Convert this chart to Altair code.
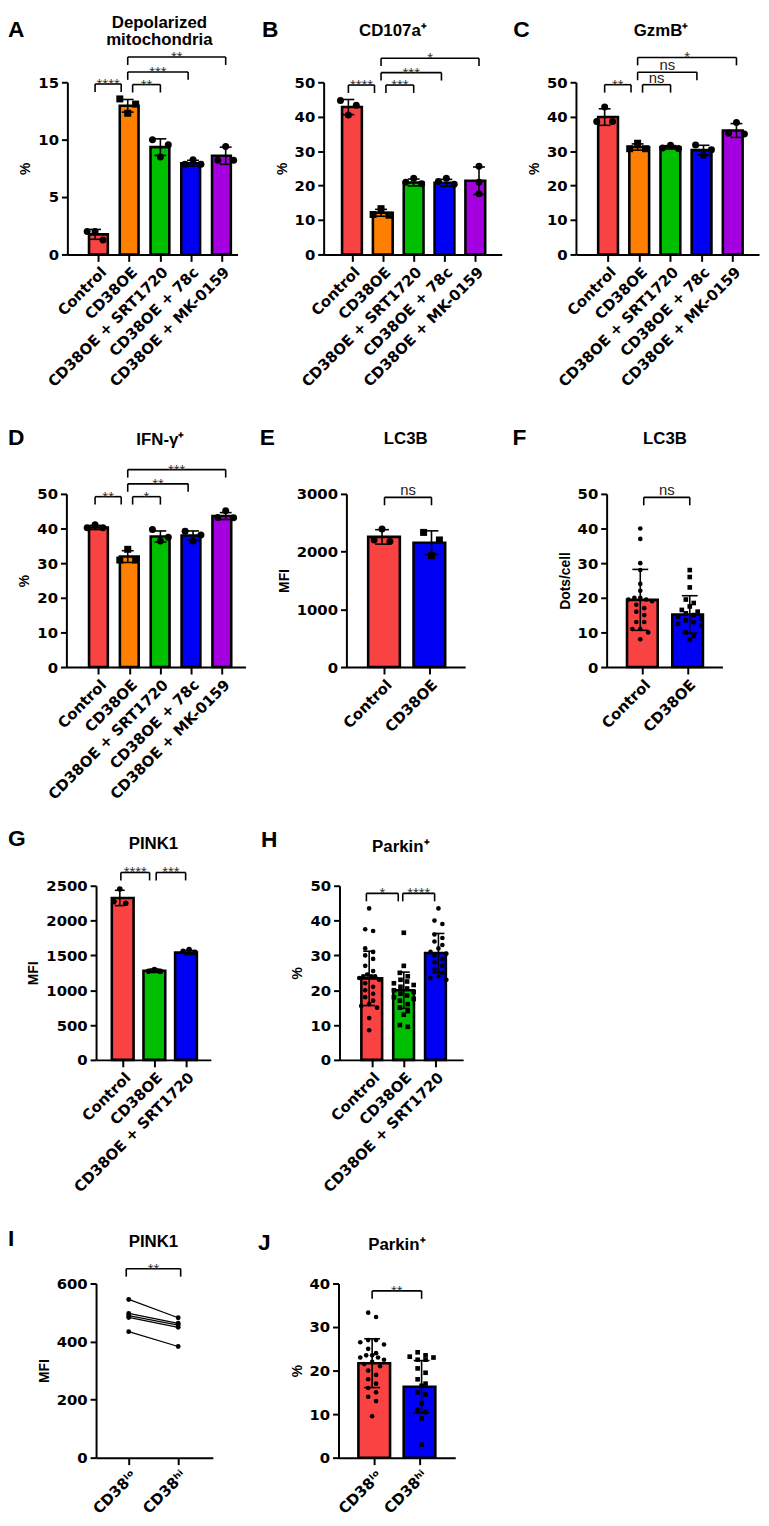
import altair as alt
import pandas as pd

FONT = "Liberation Sans"
AXFONT = "DejaVu Sans"
W, H = 761, 1518

RED, ORANGE, GREEN, BLUE, PURPLE = "#F94343", "#FF8000", "#00BE00", "#0000F5", "#A400E0"

# ---------------- data ----------------
five_groups = ["Control", "CD38OE", "CD38OE + SRT1720", "CD38OE + 78c", "CD38OE + MK-0159"]
three_groups = ["Control", "CD38OE", "CD38OE + SRT1720"]
two_groups = ["Control", "CD38OE"]
cd38_groups = ["CD38ˡᵒ", "CD38ʰⁱ"]

A_mean = [1.75, 12.95, 9.35, 7.95, 8.6]
A_sd = [0.43, 0.55, 0.72, 0.25, 0.75]
A_pts = [[2.0, 1.25, 2.0], [13.55, 12.3, 13.1], [10.0, 8.5, 9.55], [7.85, 8.25, 7.85], [8.2, 9.4, 8.2]]
A_sig = [(0, 0.8, 14.85, "****"), (1.15, 2, 14.8, "**"), (1, 2.85, 15.9, "***"), (1, 4, 17.2, "**")]

B_mean = [42.8, 12.1, 20.9, 20.8, 21.4]
B_sd = [2.2, 1.0, 1.0, 1.0, 4.0]
B_pts = [[44.7, 40.5, 43.3], [11.4, 13.3, 11.6], [22.1, 20.5, 21.0], [22.1, 20.4, 21.2], [21.0, 25.6, 17.6]]
B_sig = [(0, 0.8, 49.2, "****"), (1.15, 2, 49.2, "***"), (1, 2.85, 52.8, "***"), (1, 4, 57.0, "*")]

C_mean = [39.9, 31.2, 31.1, 30.3, 36.0]
C_sd = [2.4, 0.9, 0.5, 1.4, 2.0]
C_pts = [[42.8, 38.6, 38.6], [32.3, 30.7, 30.7], [31.7, 30.8, 30.9], [31.8, 28.8, 30.4], [38.3, 35.2, 35.0]]
C_sig = [(0, 0.8, 49.3, "**"), (1.15, 2, 49.3, "ns"), (1, 2.8, 52.9, "ns"), (1, 4, 57.2, "*")]

D_mean = [40.3, 31.9, 37.7, 38.0, 43.6]
D_sd = [0.6, 1.7, 1.6, 1.3, 1.0]
D_pts = [[40.2, 41.1, 40.2], [30.9, 34.0, 30.9], [36.4, 39.7, 37.5], [39.2, 36.4, 38.1], [43.2, 45.1, 43.1]]
D_sig = [(0, 0.8, 49.2, "**"), (1.15, 2, 49.2, "*"), (1, 2.85, 52.9, "**"), (1, 4, 57.0, "***")]

E_mean = [2255, 2155]
E_sd = [125, 205]
E_pts = [[2174, 2390, 2202], [2333, 2202, 1929]]
E_sig = [(0.05, 1, 2940, "ns")]

F_mean = [19.4, 15.2]
F_sd = [8.8, 5.4]
F_pts = [[40, 37, 30, 28, 24, 22, 20, 20, 19.5, 19.5, 19, 18, 17, 16, 15, 13, 13, 11, 11, 10, 8],
         [28, 26, 23, 19.5, 18.5, 17.5, 16.5, 16, 15.5, 15, 14.5, 14, 13.5, 13, 12.5, 12, 10, 9, 8]]
F_sig = [(0.07, 1, 49.0, "ns")]

G_mean = [2325, 1280, 1540]
G_sd = [110, 25, 30]
G_pts = [[2248, 2452, 2272], [1273, 1297, 1270], [1583, 1559, 1545]]
G_sig = [(0.03, 0.86, 2690, "****"), (1.05, 1.9, 2690, "***")]

H_mean = [23.4, 20.0, 30.7]
H_sd = [7.8, 5.2, 5.6]
H_pts = [[43.5, 37.5, 37, 32, 31, 30, 29, 27, 25.5, 24.5, 24, 24, 24, 23.5, 23, 22, 21, 20, 19, 18, 17, 16, 15.5, 15, 12, 8.5],
         [36.5, 27, 25, 24, 23, 22.5, 22, 21.5, 21, 20.5, 20, 19.5, 19, 18.5, 18, 17.5, 17, 16, 15, 14, 13, 10, 9.5],
         [43.5, 40, 39, 36, 35, 34, 33, 32, 31, 30.5, 30, 29, 28, 27, 26, 25, 24, 23.5, 23]]
H_sig = [(-0.08, 0.84, 47.8, "*"), (0.97, 1.89, 47.8, "****")]

I_lo = [545, 497, 489, 483, 434]
I_hi = [482, 463, 457, 449, 383]
I_sig = [(-0.05, 1.05, 651, "**")]

J_mean = [21.7, 16.3]
J_sd = [5.6, 6.0]
J_pts = [[33.3, 32.3, 27, 27, 26.5, 26, 25, 24, 23.5, 23.5, 23, 23, 22.5, 22, 21.5, 21, 20, 19, 18, 17, 16, 15, 14, 13, 9.5],
         [24.2, 23.5, 23.2, 23, 22.5, 22.5, 20.5, 19.5, 18, 17, 16.5, 15, 14.5, 12.5, 11, 10.5, 9, 3]]
J_sig = [(0, 1, 38.3, "**")]

# ---------------- layout (view pixel coordinates) ----------------
ROW = {1: (241, 67), 2: (658, 483), 3: (1055, 879), 4: (1457, 1281)}
SMALL = dict(row_px=9, half_px=8, gap_px=16, size=50)
DENSE = dict(row_px=6, half_px=12, gap_px=8, size=22)

LAY = {
    "A": dict(ax=60, end=232, c0=88, step=33, row=1, ymax=15, ticks=[0, 5, 10, 15], barw=19, cap=6, ytitle="%",
              colors=[RED, ORANGE, GREEN, BLUE, PURPLE], shapes=["circle", "square", "circle", "circle", "circle"], **SMALL),
    "B": dict(ax=319, end=499, c0=344, step=33, row=1, ymax=50, ticks=[0, 10, 20, 30, 40, 50], barw=20, cap=6, ytitle="%",
              colors=[RED, ORANGE, GREEN, BLUE, PURPLE], shapes=["circle", "square", "circle", "circle", "circle"], **SMALL),
    "C": dict(ax=574, end=759, c0=603, step=33.3, row=1, ymax=50, ticks=[0, 10, 20, 30, 40, 50], barw=20, cap=6, ytitle="%",
              colors=[RED, ORANGE, GREEN, BLUE, PURPLE], shapes=["circle", "square", "circle", "circle", "circle"], **SMALL),
    "D": dict(ax=59, end=240, c0=88, step=33, row=2, ymax=50, ticks=[0, 10, 20, 30, 40, 50], barw=19, cap=6, ytitle="%",
              colors=[RED, ORANGE, GREEN, BLUE, PURPLE], shapes=["circle", "square", "circle", "circle", "circle"], **SMALL),
    "E": dict(ax=342, end=462, c0=378, step=50, row=2, ymax=3000, ticks=[0, 1000, 2000, 3000], barw=32, cap=7, ytitle="MFI",
              colors=[RED, BLUE], shapes=["circle", "square"], **SMALL),
    "F": dict(ax=605, end=722, c0=639, step=50, row=2, ymax=50, ticks=[0, 10, 20, 30, 40, 50], barw=31, cap=8, ytitle="Dots/cell",
              colors=[RED, BLUE], shapes=["circle", "square"], **DENSE),
    "G": dict(ax=89, end=205, c0=113, step=35, row=3, ymax=2500, ticks=[0, 500, 1000, 1500, 2000, 2500], barw=22, cap=5, ytitle="MFI",
              colors=[RED, GREEN, BLUE], shapes=["circle", "circle", "circle"], **dict(SMALL, size=32, half_px=6)),
    "H": dict(ax=335, end=460, c0=365, step=35, row=3, ymax=50, ticks=[0, 10, 20, 30, 40, 50], barw=21, cap=6, ytitle="%",
              colors=[RED, GREEN, BLUE], shapes=["circle", "square", "circle"], **dict(DENSE, half_px=10)),
    "I": dict(ax=89, end=207, c0=122, step=50, row=4, ymax=600, ticks=[0, 200, 400, 600], ytitle="MFI", size=24),
    "J": dict(ax=334, end=452, c0=368, step=50, row=4, ymax=40, ticks=[0, 10, 20, 30, 40], barw=32, cap=8, ytitle="%",
              colors=[RED, BLUE], shapes=["circle", "square"], **DENSE),
}

LETTERS = {"A": (0, 14, "left"), "B": (265, 14, "center"), "C": (519, 14, "center"),
           "D": (0, 427, "left"), "E": (262, 427, "center"), "F": (517, 427, "center"),
           "G": (0, 832, "left"), "H": (264, 833, "center"),
           "I": (0, 1236, "left"), "J": (259, 1240, "center")}
TITLES = {"A": (["Depolarized", "mitochondria"], 153, 12), "B": ("CD107a⁺", 389, 20), "C": ("GzmB⁺", 660, 20),
          "D": ("IFN-γ⁺", 154, 434), "E": ("LC3B", 402, 433), "F": ("LC3B", 664, 433),
          "G": ("PINK1", 147, 842), "H": ("Parkin⁺", 397, 845),
          "I": ("PINK1", 147, 1244), "J": ("Parkin⁺", 393, 1247)}


def spread(vals, ppu, row_px, half_px, gap_px, step):
    order = sorted(range(len(vals)), key=lambda i: -vals[i])
    rows = []
    for i in order:
        if rows and (vals[rows[-1][0]] - vals[i]) * ppu < row_px:
            rows[-1].append(i)
        else:
            rows.append([i])
    offs = [0.0] * len(vals)
    for r in rows:
        k = len(r)
        if k == 1:
            continue
        w = min(half_px, gap_px * (k - 1) / 2)
        slots = [-w + 2 * w * j / (k - 1) for j in range(k)]
        slots.sort(key=lambda s: (abs(s), s))
        for i, s in zip(r, slots):
            offs[i] = s / step
    return offs


def scales(L, groups):
    y0, ytop = ROW[L["row"]]
    xd = [(L["ax"] - L["c0"]) / L["step"], (L["end"] - L["c0"]) / L["step"]]
    xs = alt.Scale(domain=xd, range=[L["ax"], L["end"]], nice=False, zero=False)
    ys = alt.Scale(domain=[0, L["ymax"]], range=[y0, ytop], nice=False, zero=False)
    names = "[" + ",".join("'%s'" % g for g in groups) + "]"
    xaxis = alt.Axis(orient="bottom", offset=y0 - H, values=list(range(len(groups))),
                     labelExpr=names + "[datum.value]", title=None, labelAngle=315,
                     labelAlign="right", labelBaseline="top", labelPadding=3,
                     labelOverlap=False, labelFlush=False, tickSize=7)
    yaxis = alt.Axis(orient="left", offset=-L["ax"], values=L["ticks"], title=L["ytitle"],
                     labelOverlap=False, labelFlush=False, tickSize=6, labelPadding=3,
                     titlePadding=5, format="d")
    ppu = (y0 - ytop) / L["ymax"]
    return xs, ys, xaxis, yaxis, ppu


def brackets(sig, xs, ys, ppu):
    drop = 8 / ppu
    df = pd.DataFrame(sig, columns=["x1", "x2", "y", "lab"])
    df["yb"] = df["y"] - drop
    df["xm"] = (df["x1"] + df["x2"]) / 2
    horiz = alt.Chart(df).mark_rule(color="black", strokeWidth=1.6).encode(
        x=alt.X("x1:Q", scale=xs, axis=None), x2="x2:Q", y=alt.Y("y:Q", scale=ys, axis=None))
    left = alt.Chart(df).mark_rule(color="black", strokeWidth=1.6).encode(
        x=alt.X("x1:Q", scale=xs, axis=None), y=alt.Y("y:Q", scale=ys, axis=None), y2="yb:Q")
    right = alt.Chart(df).mark_rule(color="black", strokeWidth=1.6).encode(
        x=alt.X("x2:Q", scale=xs, axis=None), y=alt.Y("y:Q", scale=ys, axis=None), y2="yb:Q")
    layers = [horiz, left, right]
    stars = df[df["lab"] != "ns"]
    ns = df[df["lab"] == "ns"]
    if len(stars):
        layers.append(alt.Chart(stars).mark_text(font=FONT, fontSize=15, color="#333", baseline="alphabetic", dy=5).encode(
            x=alt.X("xm:Q", scale=xs, axis=None), y=alt.Y("y:Q", scale=ys, axis=None), text="lab:N"))
    if len(ns):
        layers.append(alt.Chart(ns).mark_text(font=FONT, fontSize=15, color="#222", baseline="alphabetic", dy=-2).encode(
            x=alt.X("xm:Q", scale=xs, axis=None), y=alt.Y("y:Q", scale=ys, axis=None), text="lab:N"))
    return layers


def bar_panel(key, groups, means, sds, pts, sig):
    L = LAY[key]
    n = len(groups)
    xs, ys, xaxis, yaxis, ppu = scales(L, groups)
    cap = L["cap"] / L["step"]
    bdf = pd.DataFrame({"x": list(range(n)), "m": means,
                        "lo": [m - s for m, s in zip(means, sds)],
                        "hi": [m + s for m, s in zip(means, sds)],
                        "c": L["colors"][:n]})
    bdf["cl"] = bdf["x"] - cap
    bdf["cr"] = bdf["x"] + cap
    rows = []
    for gi, vals in enumerate(pts):
        offs = spread(vals, ppu, L["row_px"], L["half_px"], L["gap_px"], L["step"])
        for v, o in zip(vals, offs):
            rows.append({"px": gi + o, "v": v, "shape": L["shapes"][gi]})
    pdf = pd.DataFrame(rows)

    bars = alt.Chart(bdf).mark_bar(size=L["barw"], stroke="black", strokeWidth=2.6, orient="vertical").encode(
        x=alt.X("x:Q", scale=xs, axis=xaxis),
        y=alt.Y("m:Q", scale=ys, axis=yaxis),
        y2=alt.datum(0),
        color=alt.Color("c:N", scale=None))
    err = alt.Chart(bdf).mark_rule(color="black", strokeWidth=1.6).encode(
        x=alt.X("x:Q", scale=xs, axis=None), y=alt.Y("lo:Q", scale=ys, axis=None), y2="hi:Q")
    cap_hi = alt.Chart(bdf).mark_rule(color="black", strokeWidth=1.6).encode(
        x=alt.X("cl:Q", scale=xs, axis=None), x2="cr:Q", y=alt.Y("hi:Q", scale=ys, axis=None))
    cap_lo = alt.Chart(bdf).mark_rule(color="black", strokeWidth=1.6).encode(
        x=alt.X("cl:Q", scale=xs, axis=None), x2="cr:Q", y=alt.Y("lo:Q", scale=ys, axis=None))
    dots = alt.Chart(pdf).mark_point(filled=True, color="black", opacity=1, size=L["size"]).encode(
        x=alt.X("px:Q", scale=xs, axis=None), y=alt.Y("v:Q", scale=ys, axis=None),
        shape=alt.Shape("shape:N", scale=None))
    return [bars, err, cap_hi, cap_lo, dots] + brackets(sig, xs, ys, ppu)


def paired_panel(key, groups, lo, hi, sig):
    L = LAY[key]
    xs, ys, xaxis, yaxis, ppu = scales(L, groups)
    rows = []
    for pid, (a, b) in enumerate(zip(lo, hi)):
        rows.append({"pair": pid, "x": 0, "v": a})
        rows.append({"pair": pid, "x": 1, "v": b})
    df = pd.DataFrame(rows)
    lines = alt.Chart(df).mark_line(color="black", strokeWidth=1.3).encode(
        x=alt.X("x:Q", scale=xs, axis=xaxis), y=alt.Y("v:Q", scale=ys, axis=yaxis), detail="pair:N")
    dots = alt.Chart(df).mark_circle(color="black", opacity=1, size=L["size"]).encode(
        x=alt.X("x:Q", scale=xs, axis=None), y=alt.Y("v:Q", scale=ys, axis=None))
    return [lines, dots] + brackets(sig, xs, ys, ppu)


dummy = pd.DataFrame({"a": [0]})


def text_mark(text, x, y, size, align="center", baseline="alphabetic", lh=None):
    kw = dict(font=FONT, fontSize=size, fontWeight="bold", color="black", align=align, baseline=baseline)
    if lh:
        kw["lineHeight"] = lh
    return alt.Chart(dummy).mark_text(**kw).encode(text=alt.value(text), x=alt.value(x), y=alt.value(y))


units = []
units += bar_panel("A", five_groups, A_mean, A_sd, A_pts, A_sig)
units += bar_panel("B", five_groups, B_mean, B_sd, B_pts, B_sig)
units += bar_panel("C", five_groups, C_mean, C_sd, C_pts, C_sig)
units += bar_panel("D", five_groups, D_mean, D_sd, D_pts, D_sig)
units += bar_panel("E", two_groups, E_mean, E_sd, E_pts, E_sig)
units += bar_panel("F", two_groups, F_mean, F_sd, F_pts, F_sig)
units += bar_panel("G", three_groups, G_mean, G_sd, G_pts, G_sig)
units += bar_panel("H", three_groups, H_mean, H_sd, H_pts, H_sig)
units += paired_panel("I", cd38_groups, I_lo, I_hi, I_sig)
units += bar_panel("J", cd38_groups, J_mean, J_sd, J_pts, J_sig)

for k, (x, y, al) in LETTERS.items():
    units.append(text_mark(k, x, y, 23, align=al, baseline="middle"))
for k, (t, x, y) in TITLES.items():
    units.append(text_mark(t, x, y, 17, lh=17 if isinstance(t, list) else None))

chart = alt.layer(*units).resolve_scale(
    x="independent", y="independent"
).resolve_axis(
    x="independent", y="independent"
).properties(
    width=W, height=H, padding=0, autosize=alt.AutoSizeParams(type="none")
).configure_view(stroke=None).configure_axis(
    grid=False, labelFont=AXFONT, labelFontSize=15, labelFontWeight="bold", labelColor="black",
    domainColor="black", domainWidth=2, tickColor="black", tickWidth=2,
    titleFont=FONT, titleFontSize=14, titleFontWeight="bold", titleColor="black"
)

chart.save("out.html", embed_options={"renderer": "svg", "actions": False})
